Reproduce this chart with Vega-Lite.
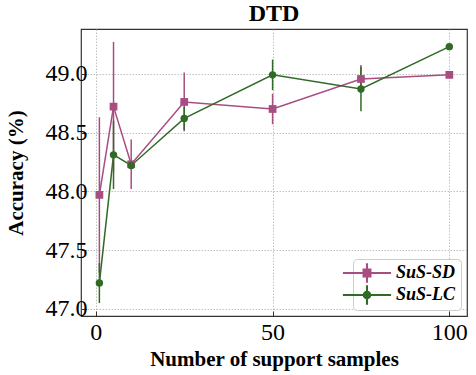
{
  "$schema": "https://vega.github.io/schema/vega-lite/v6.json",
  "width": 386,
  "height": 287,
  "autosize": "none",
  "padding": {"left": 81, "top": 29, "right": 9, "bottom": 59},
  "background": "white",
  "title": {"text": "DTD", "font": "Liberation Serif", "fontSize": 24, "fontWeight": "bold", "color": "black", "anchor": "middle", "offset": 3},
  "data": {"values": [
    {"n": 1, "acc": 47.97, "err": 0.66, "series": "SuS-SD"},
    {"n": 5, "acc": 48.72, "err": 0.55, "series": "SuS-SD"},
    {"n": 10, "acc": 48.23, "err": 0.21, "series": "SuS-SD"},
    {"n": 25, "acc": 48.76, "err": 0.25, "series": "SuS-SD"},
    {"n": 50, "acc": 48.70, "err": 0.13, "series": "SuS-SD"},
    {"n": 75, "acc": 48.955, "err": 0.12, "series": "SuS-SD"},
    {"n": 100, "acc": 48.99, "err": 0.01, "series": "SuS-SD"},
    {"n": 1, "acc": 47.22, "err": 0.17, "series": "SuS-LC"},
    {"n": 5, "acc": 48.31, "err": 0.29, "series": "SuS-LC"},
    {"n": 10, "acc": 48.22, "err": 0.03, "series": "SuS-LC"},
    {"n": 25, "acc": 48.62, "err": 0.1, "series": "SuS-LC"},
    {"n": 50, "acc": 48.99, "err": 0.13, "series": "SuS-LC"},
    {"n": 75, "acc": 48.87, "err": 0.19, "series": "SuS-LC"},
    {"n": 100, "acc": 49.23, "err": 0.02, "series": "SuS-LC"}
  ]},
  "encoding": {
    "x": {"field": "n", "type": "quantitative",
      "scale": {"domain": [-4.2, 105], "nice": false, "zero": false},
      "axis": {"values": [0, 50, 100], "title": "Number of support samples",
        "titleFont": "Liberation Serif", "titleFontSize": 21, "titleFontWeight": "bold", "titleY": 49, "titleBaseline": "alphabetic",
        "labelFont": "Liberation Serif", "labelFontSize": 24, "labelBaseline": "alphabetic", "labelPadding": 28}},
    "y": {"field": "acc", "type": "quantitative",
      "scale": {"domain": [46.94, 49.38], "nice": false, "zero": false},
      "axis": {"values": [47.0, 47.5, 48.0, 48.5, 49.0], "format": ".1f", "title": "Accuracy (%)",
        "titleFont": "Liberation Serif", "titleFontSize": 21, "titleFontWeight": "bold", "titleX": -59, "titleY": 143.5, "titleBaseline": "alphabetic", "titleAlign": "center", "titleAngle": 270,
        "labelFont": "Liberation Serif", "labelFontSize": 24, "labelPadding": -1}},
    "color": {"field": "series", "type": "nominal",
      "scale": {"domain": ["SuS-SD", "SuS-LC"], "range": ["#A84D80", "#2F6B25"]},
      "legend": {"title": null, "orient": "bottom-right", "offset": 6,
        "labelFont": "Liberation Serif", "labelFontSize": 18, "labelFontWeight": "bold", "labelFontStyle": "italic",
        "symbolSize": 196, "labelOffset": 20, "rowPadding": 2, "padding": 5,
        "symbolOpacity": 1, "symbolStrokeWidth": 0,
        "strokeColor": "#cccccc", "fillColor": "white", "cornerRadius": 4}
    }
  },
  "layer": [
    {"mark": {"type": "line", "strokeWidth": 1.5}},
    {"mark": {"type": "errorbar", "ticks": false, "thickness": 1.5},
     "encoding": {"yError": {"field": "err"}}},
    {"transform": [{"filter": "datum.series === 'SuS-SD'"}],
     "mark": {"type": "point", "filled": true, "opacity": 1, "size": 60, "shape": "square"}},
    {"transform": [{"filter": "datum.series === 'SuS-LC'"}],
     "mark": {"type": "point", "filled": true, "opacity": 1, "size": 55, "shape": "circle"}},
    {"transform": [{"filter": "false"}],
     "mark": {"type": "point", "filled": true, "opacity": 1},
     "encoding": {"shape": {"field": "series", "type": "nominal",
       "scale": {"domain": ["SuS-SD", "SuS-LC"], "range": [
         "M-3.44,-0.15H3.44V0.15H-3.44ZM-0.15,-1.41H0.15V1.41H-0.15ZM-0.64,-0.64H0.64V0.64H-0.64Z",
         "M-3.44,-0.15H3.44V0.15H-3.44ZM-0.15,-1.41H0.15V1.41H-0.15ZM-0.62,0A0.62,0.62,0,1,1,0.62,0A0.62,0.62,0,1,1,-0.62,0Z"]},
       "legend": {"title": null, "orient": "bottom-right", "offset": 6,
        "labelFont": "Liberation Serif", "labelFontSize": 18, "labelFontWeight": "bold", "labelFontStyle": "italic",
        "symbolSize": 196, "labelOffset": 20, "rowPadding": 2, "padding": 5,
        "symbolOpacity": 1, "symbolStrokeWidth": 0,
        "strokeColor": "#cccccc", "fillColor": "white", "cornerRadius": 4}}}}
  ],
  "config": {
    "font": "Liberation Serif",
    "view": {"stroke": "#333333", "strokeWidth": 1.2},
    "axis": {"domain": false, "grid": true, "gridColor": "#b0b0b0", "gridDash": [1.5, 1.5], "gridWidth": 0.8,
      "ticks": true, "tickSize": -5, "tickColor": "#333333", "tickWidth": 1,
      "labelColor": "black", "titleColor": "black", "labelFont": "Liberation Serif", "titleFont": "Liberation Serif"}
  }
}
